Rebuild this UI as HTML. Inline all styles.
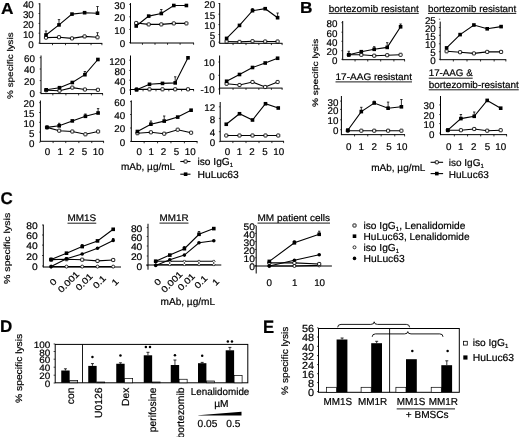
<!DOCTYPE html>
<html><head><meta charset="utf-8"><style>
html,body{margin:0;padding:0;background:#fff;}
svg{display:block;filter:grayscale(100%);}
text{stroke:#000;stroke-width:0.2px;text-rendering:geometricPrecision;}
</style></head><body>
<svg width="520" height="437" viewBox="0 0 520 437">
<rect width="520" height="437" fill="#fff"/>
<g font-family='"Liberation Sans", sans-serif' fill="#000">
<text transform="translate(0.90,13.50) scale(1.08,1)" font-size="16" text-anchor="start" font-weight="bold" >A</text>
<text transform="translate(300.00,13.00) scale(1.08,1)" font-size="16" text-anchor="start" font-weight="bold" >B</text>
<text x="0.40" y="203.90" font-size="17" text-anchor="start" font-weight="bold" >C</text>
<text x="-0.10" y="332.20" font-size="17" text-anchor="start" font-weight="bold" >D</text>
<text transform="translate(263.00,332.50) scale(0.93,1)" font-size="18" text-anchor="start" font-weight="bold" >E</text>
<line x1="39.80" y1="3.20" x2="39.80" y2="43.90" stroke="#000" stroke-width="1.0"/>
<line x1="39.80" y1="43.40" x2="102.30" y2="43.40" stroke="#000" stroke-width="1.0"/>
<line x1="38.50" y1="3.80" x2="39.80" y2="3.80" stroke="#000" stroke-width="0.7"/>
<text x="33.80" y="8.28" font-size="9.8" text-anchor="end" font-weight="normal" >40</text>
<line x1="38.50" y1="13.50" x2="39.80" y2="13.50" stroke="#000" stroke-width="0.7"/>
<text x="33.80" y="17.98" font-size="9.8" text-anchor="end" font-weight="normal" >30</text>
<line x1="38.50" y1="23.40" x2="39.80" y2="23.40" stroke="#000" stroke-width="0.7"/>
<text x="33.80" y="27.88" font-size="9.8" text-anchor="end" font-weight="normal" >20</text>
<line x1="38.50" y1="33.20" x2="39.80" y2="33.20" stroke="#000" stroke-width="0.7"/>
<text x="33.80" y="37.68" font-size="9.8" text-anchor="end" font-weight="normal" >10</text>
<line x1="38.50" y1="43.10" x2="39.80" y2="43.10" stroke="#000" stroke-width="0.7"/>
<text x="33.80" y="47.58" font-size="9.8" text-anchor="end" font-weight="normal" >0</text>
<line x1="52.50" y1="43.40" x2="52.50" y2="45.20" stroke="#000" stroke-width="0.8"/>
<line x1="65.50" y1="43.40" x2="65.50" y2="45.20" stroke="#000" stroke-width="0.8"/>
<line x1="78.30" y1="43.40" x2="78.30" y2="45.20" stroke="#000" stroke-width="0.8"/>
<line x1="91.05" y1="43.40" x2="91.05" y2="45.20" stroke="#000" stroke-width="0.8"/>
<line x1="101.90" y1="43.40" x2="101.90" y2="45.20" stroke="#000" stroke-width="0.8"/>
<line x1="46.00" y1="35.00" x2="46.00" y2="31.00" stroke="#000" stroke-width="0.8"/>
<line x1="44.80" y1="31.00" x2="47.20" y2="31.00" stroke="#000" stroke-width="0.8"/>
<line x1="59.00" y1="24.90" x2="59.00" y2="19.60" stroke="#000" stroke-width="0.8"/>
<line x1="57.80" y1="19.60" x2="60.20" y2="19.60" stroke="#000" stroke-width="0.8"/>
<line x1="97.50" y1="13.20" x2="97.50" y2="6.50" stroke="#000" stroke-width="0.8"/>
<line x1="96.30" y1="6.50" x2="98.70" y2="6.50" stroke="#000" stroke-width="0.8"/>
<line x1="97.50" y1="37.30" x2="97.50" y2="32.70" stroke="#000" stroke-width="0.8"/>
<line x1="96.30" y1="32.70" x2="98.70" y2="32.70" stroke="#000" stroke-width="0.8"/>
<polyline points="46.00,37.60 59.00,37.20 72.00,38.40 84.60,36.40 97.50,37.30" fill="none" stroke="#000" stroke-width="1.1"/>
<polyline points="46.00,35.00 59.00,24.90 72.00,14.10 84.60,12.70 97.50,13.20" fill="none" stroke="#000" stroke-width="1.1"/>
<rect x="44.45" y="36.05" width="3.10" height="3.10" rx="0.6" fill="#fff" stroke="#000" stroke-width="0.9"/>
<rect x="57.45" y="35.65" width="3.10" height="3.10" rx="0.6" fill="#fff" stroke="#000" stroke-width="0.9"/>
<rect x="70.45" y="36.85" width="3.10" height="3.10" rx="0.6" fill="#fff" stroke="#000" stroke-width="0.9"/>
<rect x="83.05" y="34.85" width="3.10" height="3.10" rx="0.6" fill="#fff" stroke="#000" stroke-width="0.9"/>
<rect x="95.95" y="35.75" width="3.10" height="3.10" rx="0.6" fill="#fff" stroke="#000" stroke-width="0.9"/>
<rect x="44.20" y="33.20" width="3.60" height="3.60" fill="#000"/>
<rect x="57.20" y="23.10" width="3.60" height="3.60" fill="#000"/>
<rect x="70.20" y="12.30" width="3.60" height="3.60" fill="#000"/>
<rect x="82.80" y="10.90" width="3.60" height="3.60" fill="#000"/>
<rect x="95.70" y="11.40" width="3.60" height="3.60" fill="#000"/>
<line x1="130.50" y1="3.10" x2="130.50" y2="43.50" stroke="#000" stroke-width="1.0"/>
<line x1="130.50" y1="43.00" x2="194.00" y2="43.00" stroke="#000" stroke-width="1.0"/>
<line x1="129.20" y1="4.40" x2="130.50" y2="4.40" stroke="#000" stroke-width="0.7"/>
<text x="125.20" y="8.88" font-size="9.8" text-anchor="end" font-weight="normal" >30</text>
<line x1="129.20" y1="16.80" x2="130.50" y2="16.80" stroke="#000" stroke-width="0.7"/>
<text x="125.20" y="21.28" font-size="9.8" text-anchor="end" font-weight="normal" >20</text>
<line x1="129.20" y1="29.40" x2="130.50" y2="29.40" stroke="#000" stroke-width="0.7"/>
<text x="125.20" y="33.88" font-size="9.8" text-anchor="end" font-weight="normal" >10</text>
<line x1="129.20" y1="42.60" x2="130.50" y2="42.60" stroke="#000" stroke-width="0.7"/>
<text x="125.20" y="47.08" font-size="9.8" text-anchor="end" font-weight="normal" >0</text>
<line x1="142.45" y1="43.00" x2="142.45" y2="44.80" stroke="#000" stroke-width="0.8"/>
<line x1="155.00" y1="43.00" x2="155.00" y2="44.80" stroke="#000" stroke-width="0.8"/>
<line x1="167.55" y1="43.00" x2="167.55" y2="44.80" stroke="#000" stroke-width="0.8"/>
<line x1="180.10" y1="43.00" x2="180.10" y2="44.80" stroke="#000" stroke-width="0.8"/>
<line x1="193.60" y1="43.00" x2="193.60" y2="44.80" stroke="#000" stroke-width="0.8"/>
<line x1="161.30" y1="13.50" x2="161.30" y2="9.50" stroke="#000" stroke-width="0.8"/>
<line x1="160.10" y1="9.50" x2="162.50" y2="9.50" stroke="#000" stroke-width="0.8"/>
<polyline points="136.20,23.00 148.70,24.40 161.30,24.40 173.80,23.40 186.40,23.40" fill="none" stroke="#000" stroke-width="1.1"/>
<polyline points="136.20,26.00 148.70,16.10 161.30,13.50 173.80,5.50 186.40,5.50" fill="none" stroke="#000" stroke-width="1.1"/>
<rect x="134.65" y="21.45" width="3.10" height="3.10" rx="0.6" fill="#fff" stroke="#000" stroke-width="0.9"/>
<rect x="147.15" y="22.85" width="3.10" height="3.10" rx="0.6" fill="#fff" stroke="#000" stroke-width="0.9"/>
<rect x="159.75" y="22.85" width="3.10" height="3.10" rx="0.6" fill="#fff" stroke="#000" stroke-width="0.9"/>
<rect x="172.25" y="21.85" width="3.10" height="3.10" rx="0.6" fill="#fff" stroke="#000" stroke-width="0.9"/>
<rect x="184.85" y="21.85" width="3.10" height="3.10" rx="0.6" fill="#fff" stroke="#000" stroke-width="0.9"/>
<rect x="134.40" y="24.20" width="3.60" height="3.60" fill="#000"/>
<rect x="146.90" y="14.30" width="3.60" height="3.60" fill="#000"/>
<rect x="159.50" y="11.70" width="3.60" height="3.60" fill="#000"/>
<rect x="172.00" y="3.70" width="3.60" height="3.60" fill="#000"/>
<rect x="184.60" y="3.70" width="3.60" height="3.60" fill="#000"/>
<line x1="219.70" y1="3.00" x2="219.70" y2="43.80" stroke="#000" stroke-width="1.0"/>
<line x1="219.70" y1="43.30" x2="282.50" y2="43.30" stroke="#000" stroke-width="1.0"/>
<line x1="218.40" y1="3.50" x2="219.70" y2="3.50" stroke="#000" stroke-width="0.7"/>
<text x="215.20" y="7.98" font-size="9.8" text-anchor="end" font-weight="normal" >20</text>
<line x1="218.40" y1="14.20" x2="219.70" y2="14.20" stroke="#000" stroke-width="0.7"/>
<text x="215.20" y="18.68" font-size="9.8" text-anchor="end" font-weight="normal" >15</text>
<line x1="218.40" y1="24.60" x2="219.70" y2="24.60" stroke="#000" stroke-width="0.7"/>
<text x="215.20" y="29.08" font-size="9.8" text-anchor="end" font-weight="normal" >10</text>
<line x1="218.40" y1="34.50" x2="219.70" y2="34.50" stroke="#000" stroke-width="0.7"/>
<text x="215.20" y="38.98" font-size="9.8" text-anchor="end" font-weight="normal" >5</text>
<line x1="218.40" y1="42.20" x2="219.70" y2="42.20" stroke="#000" stroke-width="0.7"/>
<text x="215.20" y="46.68" font-size="9.8" text-anchor="end" font-weight="normal" >0</text>
<line x1="233.05" y1="43.30" x2="233.05" y2="45.10" stroke="#000" stroke-width="0.8"/>
<line x1="246.00" y1="43.30" x2="246.00" y2="45.10" stroke="#000" stroke-width="0.8"/>
<line x1="258.85" y1="43.30" x2="258.85" y2="45.10" stroke="#000" stroke-width="0.8"/>
<line x1="271.40" y1="43.30" x2="271.40" y2="45.10" stroke="#000" stroke-width="0.8"/>
<line x1="282.10" y1="43.30" x2="282.10" y2="45.10" stroke="#000" stroke-width="0.8"/>
<line x1="252.50" y1="10.70" x2="252.50" y2="8.50" stroke="#000" stroke-width="0.8"/>
<line x1="251.30" y1="8.50" x2="253.70" y2="8.50" stroke="#000" stroke-width="0.8"/>
<line x1="277.60" y1="17.70" x2="277.60" y2="13.00" stroke="#000" stroke-width="0.8"/>
<line x1="276.40" y1="13.00" x2="278.80" y2="13.00" stroke="#000" stroke-width="0.8"/>
<polyline points="226.60,41.50 239.50,41.90 252.50,41.20 265.20,41.50 277.60,41.50" fill="none" stroke="#000" stroke-width="1.1"/>
<polyline points="226.60,38.40 239.50,25.40 252.50,10.70 265.20,8.70 277.60,17.70" fill="none" stroke="#000" stroke-width="1.1"/>
<rect x="225.05" y="39.95" width="3.10" height="3.10" rx="0.6" fill="#fff" stroke="#000" stroke-width="0.9"/>
<rect x="237.95" y="40.35" width="3.10" height="3.10" rx="0.6" fill="#fff" stroke="#000" stroke-width="0.9"/>
<rect x="250.95" y="39.65" width="3.10" height="3.10" rx="0.6" fill="#fff" stroke="#000" stroke-width="0.9"/>
<rect x="263.65" y="39.95" width="3.10" height="3.10" rx="0.6" fill="#fff" stroke="#000" stroke-width="0.9"/>
<rect x="276.05" y="39.95" width="3.10" height="3.10" rx="0.6" fill="#fff" stroke="#000" stroke-width="0.9"/>
<rect x="224.80" y="36.60" width="3.60" height="3.60" fill="#000"/>
<rect x="237.70" y="23.60" width="3.60" height="3.60" fill="#000"/>
<rect x="250.70" y="8.90" width="3.60" height="3.60" fill="#000"/>
<rect x="263.40" y="6.90" width="3.60" height="3.60" fill="#000"/>
<rect x="275.80" y="15.90" width="3.60" height="3.60" fill="#000"/>
<line x1="41.00" y1="55.50" x2="41.00" y2="94.10" stroke="#000" stroke-width="1.0"/>
<line x1="41.00" y1="93.60" x2="103.00" y2="93.60" stroke="#000" stroke-width="1.0"/>
<line x1="39.70" y1="57.70" x2="41.00" y2="57.70" stroke="#000" stroke-width="0.7"/>
<text x="35.00" y="62.18" font-size="9.8" text-anchor="end" font-weight="normal" >60</text>
<line x1="39.70" y1="69.00" x2="41.00" y2="69.00" stroke="#000" stroke-width="0.7"/>
<text x="35.00" y="73.48" font-size="9.8" text-anchor="end" font-weight="normal" >40</text>
<line x1="39.70" y1="80.60" x2="41.00" y2="80.60" stroke="#000" stroke-width="0.7"/>
<text x="35.00" y="85.08" font-size="9.8" text-anchor="end" font-weight="normal" >20</text>
<line x1="39.70" y1="92.60" x2="41.00" y2="92.60" stroke="#000" stroke-width="0.7"/>
<text x="35.00" y="97.08" font-size="9.8" text-anchor="end" font-weight="normal" >0</text>
<line x1="52.85" y1="93.60" x2="52.85" y2="95.40" stroke="#000" stroke-width="0.8"/>
<line x1="65.90" y1="93.60" x2="65.90" y2="95.40" stroke="#000" stroke-width="0.8"/>
<line x1="78.60" y1="93.60" x2="78.60" y2="95.40" stroke="#000" stroke-width="0.8"/>
<line x1="91.40" y1="93.60" x2="91.40" y2="95.40" stroke="#000" stroke-width="0.8"/>
<line x1="102.60" y1="93.60" x2="102.60" y2="95.40" stroke="#000" stroke-width="0.8"/>
<line x1="84.90" y1="74.70" x2="84.90" y2="71.50" stroke="#000" stroke-width="0.8"/>
<line x1="83.70" y1="71.50" x2="86.10" y2="71.50" stroke="#000" stroke-width="0.8"/>
<polyline points="46.20,90.20 59.50,90.70 72.30,87.60 84.90,89.50 97.90,89.80" fill="none" stroke="#000" stroke-width="1.1"/>
<polyline points="46.20,89.80 59.50,87.70 72.30,82.50 84.90,74.70 97.90,59.50" fill="none" stroke="#000" stroke-width="1.1"/>
<rect x="44.65" y="88.65" width="3.10" height="3.10" rx="0.6" fill="#fff" stroke="#000" stroke-width="0.9"/>
<rect x="57.95" y="89.15" width="3.10" height="3.10" rx="0.6" fill="#fff" stroke="#000" stroke-width="0.9"/>
<rect x="70.75" y="86.05" width="3.10" height="3.10" rx="0.6" fill="#fff" stroke="#000" stroke-width="0.9"/>
<rect x="83.35" y="87.95" width="3.10" height="3.10" rx="0.6" fill="#fff" stroke="#000" stroke-width="0.9"/>
<rect x="96.35" y="88.25" width="3.10" height="3.10" rx="0.6" fill="#fff" stroke="#000" stroke-width="0.9"/>
<rect x="44.40" y="88.00" width="3.60" height="3.60" fill="#000"/>
<rect x="57.70" y="85.90" width="3.60" height="3.60" fill="#000"/>
<rect x="70.50" y="80.70" width="3.60" height="3.60" fill="#000"/>
<rect x="83.10" y="72.90" width="3.60" height="3.60" fill="#000"/>
<rect x="96.10" y="57.70" width="3.60" height="3.60" fill="#000"/>
<line x1="130.50" y1="55.50" x2="130.50" y2="95.00" stroke="#000" stroke-width="1.0"/>
<line x1="130.50" y1="89.50" x2="194.00" y2="89.50" stroke="#000" stroke-width="1.0"/>
<line x1="129.20" y1="60.20" x2="130.50" y2="60.20" stroke="#000" stroke-width="0.7"/>
<text x="125.50" y="64.68" font-size="9.8" text-anchor="end" font-weight="normal" >120</text>
<line x1="129.20" y1="70.40" x2="130.50" y2="70.40" stroke="#000" stroke-width="0.7"/>
<text x="125.50" y="74.88" font-size="9.8" text-anchor="end" font-weight="normal" >80</text>
<line x1="129.20" y1="80.20" x2="130.50" y2="80.20" stroke="#000" stroke-width="0.7"/>
<text x="125.50" y="84.68" font-size="9.8" text-anchor="end" font-weight="normal" >40</text>
<line x1="129.20" y1="90.00" x2="130.50" y2="90.00" stroke="#000" stroke-width="0.7"/>
<text x="125.50" y="94.48" font-size="9.8" text-anchor="end" font-weight="normal" >0</text>
<line x1="143.05" y1="89.50" x2="143.05" y2="91.30" stroke="#000" stroke-width="0.8"/>
<line x1="156.00" y1="89.50" x2="156.00" y2="91.30" stroke="#000" stroke-width="0.8"/>
<line x1="168.85" y1="89.50" x2="168.85" y2="91.30" stroke="#000" stroke-width="0.8"/>
<line x1="181.60" y1="89.50" x2="181.60" y2="91.30" stroke="#000" stroke-width="0.8"/>
<line x1="193.60" y1="89.50" x2="193.60" y2="91.30" stroke="#000" stroke-width="0.8"/>
<line x1="175.20" y1="82.90" x2="175.20" y2="76.80" stroke="#000" stroke-width="0.8"/>
<line x1="174.00" y1="76.80" x2="176.40" y2="76.80" stroke="#000" stroke-width="0.8"/>
<polyline points="136.60,89.30 149.50,89.30 162.50,89.30 175.20,89.30 188.00,89.30" fill="none" stroke="#000" stroke-width="1.1"/>
<polyline points="136.60,89.80 149.50,84.30 162.50,83.40 175.20,82.90 188.00,57.80" fill="none" stroke="#000" stroke-width="1.1"/>
<rect x="135.05" y="87.75" width="3.10" height="3.10" rx="0.6" fill="#fff" stroke="#000" stroke-width="0.9"/>
<rect x="147.95" y="87.75" width="3.10" height="3.10" rx="0.6" fill="#fff" stroke="#000" stroke-width="0.9"/>
<rect x="160.95" y="87.75" width="3.10" height="3.10" rx="0.6" fill="#fff" stroke="#000" stroke-width="0.9"/>
<rect x="173.65" y="87.75" width="3.10" height="3.10" rx="0.6" fill="#fff" stroke="#000" stroke-width="0.9"/>
<rect x="186.45" y="87.75" width="3.10" height="3.10" rx="0.6" fill="#fff" stroke="#000" stroke-width="0.9"/>
<rect x="134.80" y="88.00" width="3.60" height="3.60" fill="#000"/>
<rect x="147.70" y="82.50" width="3.60" height="3.60" fill="#000"/>
<rect x="160.70" y="81.60" width="3.60" height="3.60" fill="#000"/>
<rect x="173.40" y="81.10" width="3.60" height="3.60" fill="#000"/>
<rect x="186.20" y="56.00" width="3.60" height="3.60" fill="#000"/>
<line x1="219.60" y1="55.50" x2="219.60" y2="94.60" stroke="#000" stroke-width="1.0"/>
<line x1="219.60" y1="88.10" x2="282.50" y2="88.10" stroke="#000" stroke-width="1.0"/>
<line x1="218.30" y1="62.00" x2="219.60" y2="62.00" stroke="#000" stroke-width="0.7"/>
<text x="214.60" y="66.48" font-size="9.8" text-anchor="end" font-weight="normal" >10</text>
<line x1="218.30" y1="75.30" x2="219.60" y2="75.30" stroke="#000" stroke-width="0.7"/>
<text x="214.60" y="79.78" font-size="9.8" text-anchor="end" font-weight="normal" >0</text>
<line x1="218.30" y1="89.00" x2="219.60" y2="89.00" stroke="#000" stroke-width="0.7"/>
<text x="214.60" y="93.48" font-size="9.8" text-anchor="end" font-weight="normal" >-10</text>
<line x1="233.05" y1="88.10" x2="233.05" y2="89.90" stroke="#000" stroke-width="0.8"/>
<line x1="246.00" y1="88.10" x2="246.00" y2="89.90" stroke="#000" stroke-width="0.8"/>
<line x1="258.85" y1="88.10" x2="258.85" y2="89.90" stroke="#000" stroke-width="0.8"/>
<line x1="271.40" y1="88.10" x2="271.40" y2="89.90" stroke="#000" stroke-width="0.8"/>
<line x1="282.10" y1="88.10" x2="282.10" y2="89.90" stroke="#000" stroke-width="0.8"/>
<polyline points="226.60,83.75 239.50,85.00 252.50,82.00 265.20,87.00 277.60,82.00" fill="none" stroke="#000" stroke-width="1.1"/>
<polyline points="226.60,81.25 239.50,74.50 252.50,67.50 265.20,63.00 277.60,58.25" fill="none" stroke="#000" stroke-width="1.1"/>
<rect x="225.05" y="82.20" width="3.10" height="3.10" rx="0.6" fill="#fff" stroke="#000" stroke-width="0.9"/>
<rect x="237.95" y="83.45" width="3.10" height="3.10" rx="0.6" fill="#fff" stroke="#000" stroke-width="0.9"/>
<rect x="250.95" y="80.45" width="3.10" height="3.10" rx="0.6" fill="#fff" stroke="#000" stroke-width="0.9"/>
<rect x="263.65" y="85.45" width="3.10" height="3.10" rx="0.6" fill="#fff" stroke="#000" stroke-width="0.9"/>
<rect x="276.05" y="80.45" width="3.10" height="3.10" rx="0.6" fill="#fff" stroke="#000" stroke-width="0.9"/>
<rect x="224.80" y="79.45" width="3.60" height="3.60" fill="#000"/>
<rect x="237.70" y="72.70" width="3.60" height="3.60" fill="#000"/>
<rect x="250.70" y="65.70" width="3.60" height="3.60" fill="#000"/>
<rect x="263.40" y="61.20" width="3.60" height="3.60" fill="#000"/>
<rect x="275.80" y="56.45" width="3.60" height="3.60" fill="#000"/>
<line x1="40.40" y1="100.50" x2="40.40" y2="141.80" stroke="#000" stroke-width="1.0"/>
<line x1="40.40" y1="141.30" x2="104.00" y2="141.30" stroke="#000" stroke-width="1.0"/>
<line x1="39.10" y1="102.70" x2="40.40" y2="102.70" stroke="#000" stroke-width="0.7"/>
<text x="34.40" y="107.18" font-size="9.8" text-anchor="end" font-weight="normal" >20</text>
<line x1="39.10" y1="112.50" x2="40.40" y2="112.50" stroke="#000" stroke-width="0.7"/>
<text x="34.40" y="116.98" font-size="9.8" text-anchor="end" font-weight="normal" >15</text>
<line x1="39.10" y1="122.30" x2="40.40" y2="122.30" stroke="#000" stroke-width="0.7"/>
<text x="34.40" y="126.78" font-size="9.8" text-anchor="end" font-weight="normal" >10</text>
<line x1="39.10" y1="132.10" x2="40.40" y2="132.10" stroke="#000" stroke-width="0.7"/>
<text x="34.40" y="136.58" font-size="9.8" text-anchor="end" font-weight="normal" >5</text>
<line x1="39.10" y1="142.20" x2="40.40" y2="142.20" stroke="#000" stroke-width="0.7"/>
<text x="34.40" y="146.68" font-size="9.8" text-anchor="end" font-weight="normal" >0</text>
<line x1="53.10" y1="141.30" x2="53.10" y2="143.10" stroke="#000" stroke-width="0.8"/>
<line x1="65.75" y1="141.30" x2="65.75" y2="143.10" stroke="#000" stroke-width="0.8"/>
<line x1="78.85" y1="141.30" x2="78.85" y2="143.10" stroke="#000" stroke-width="0.8"/>
<line x1="91.75" y1="141.30" x2="91.75" y2="143.10" stroke="#000" stroke-width="0.8"/>
<line x1="103.60" y1="141.30" x2="103.60" y2="143.10" stroke="#000" stroke-width="0.8"/>
<line x1="59.20" y1="125.80" x2="59.20" y2="123.30" stroke="#000" stroke-width="0.8"/>
<line x1="58.00" y1="123.30" x2="60.40" y2="123.30" stroke="#000" stroke-width="0.8"/>
<line x1="85.40" y1="116.30" x2="85.40" y2="114.00" stroke="#000" stroke-width="0.8"/>
<line x1="84.20" y1="114.00" x2="86.60" y2="114.00" stroke="#000" stroke-width="0.8"/>
<line x1="98.10" y1="113.00" x2="98.10" y2="108.60" stroke="#000" stroke-width="0.8"/>
<line x1="96.90" y1="108.60" x2="99.30" y2="108.60" stroke="#000" stroke-width="0.8"/>
<polyline points="47.00,127.40 59.20,130.70 72.30,131.50 85.40,134.30 98.10,131.50" fill="none" stroke="#000" stroke-width="1.1"/>
<polyline points="47.00,127.40 59.20,125.80 72.30,120.90 85.40,116.30 98.10,113.00" fill="none" stroke="#000" stroke-width="1.1"/>
<rect x="45.45" y="125.85" width="3.10" height="3.10" rx="0.6" fill="#fff" stroke="#000" stroke-width="0.9"/>
<rect x="57.65" y="129.15" width="3.10" height="3.10" rx="0.6" fill="#fff" stroke="#000" stroke-width="0.9"/>
<rect x="70.75" y="129.95" width="3.10" height="3.10" rx="0.6" fill="#fff" stroke="#000" stroke-width="0.9"/>
<rect x="83.85" y="132.75" width="3.10" height="3.10" rx="0.6" fill="#fff" stroke="#000" stroke-width="0.9"/>
<rect x="96.55" y="129.95" width="3.10" height="3.10" rx="0.6" fill="#fff" stroke="#000" stroke-width="0.9"/>
<rect x="45.20" y="125.60" width="3.60" height="3.60" fill="#000"/>
<rect x="57.40" y="124.00" width="3.60" height="3.60" fill="#000"/>
<rect x="70.50" y="119.10" width="3.60" height="3.60" fill="#000"/>
<rect x="83.60" y="114.50" width="3.60" height="3.60" fill="#000"/>
<rect x="96.30" y="111.20" width="3.60" height="3.60" fill="#000"/>
<line x1="131.30" y1="100.40" x2="131.30" y2="142.00" stroke="#000" stroke-width="1.0"/>
<line x1="131.30" y1="141.50" x2="197.50" y2="141.50" stroke="#000" stroke-width="1.0"/>
<line x1="130.00" y1="101.60" x2="131.30" y2="101.60" stroke="#000" stroke-width="0.7"/>
<text x="125.10" y="106.08" font-size="9.8" text-anchor="end" font-weight="normal" >60</text>
<line x1="130.00" y1="114.50" x2="131.30" y2="114.50" stroke="#000" stroke-width="0.7"/>
<text x="125.10" y="118.98" font-size="9.8" text-anchor="end" font-weight="normal" >40</text>
<line x1="130.00" y1="128.00" x2="131.30" y2="128.00" stroke="#000" stroke-width="0.7"/>
<text x="125.10" y="132.48" font-size="9.8" text-anchor="end" font-weight="normal" >20</text>
<line x1="130.00" y1="141.40" x2="131.30" y2="141.40" stroke="#000" stroke-width="0.7"/>
<text x="125.10" y="145.88" font-size="9.8" text-anchor="end" font-weight="normal" >0</text>
<line x1="144.15" y1="141.50" x2="144.15" y2="143.30" stroke="#000" stroke-width="0.8"/>
<line x1="157.55" y1="141.50" x2="157.55" y2="143.30" stroke="#000" stroke-width="0.8"/>
<line x1="170.95" y1="141.50" x2="170.95" y2="143.30" stroke="#000" stroke-width="0.8"/>
<line x1="184.40" y1="141.50" x2="184.40" y2="143.30" stroke="#000" stroke-width="0.8"/>
<line x1="197.10" y1="141.50" x2="197.10" y2="143.30" stroke="#000" stroke-width="0.8"/>
<line x1="150.90" y1="124.20" x2="150.90" y2="121.00" stroke="#000" stroke-width="0.8"/>
<line x1="149.70" y1="121.00" x2="152.10" y2="121.00" stroke="#000" stroke-width="0.8"/>
<line x1="164.20" y1="121.10" x2="164.20" y2="116.00" stroke="#000" stroke-width="0.8"/>
<line x1="163.00" y1="116.00" x2="165.40" y2="116.00" stroke="#000" stroke-width="0.8"/>
<polyline points="137.40,133.20 150.90,132.30 164.20,133.70 177.70,129.70 191.10,132.70" fill="none" stroke="#000" stroke-width="1.1"/>
<polyline points="137.40,131.50 150.90,124.20 164.20,121.10 177.70,117.10 191.10,110.20" fill="none" stroke="#000" stroke-width="1.1"/>
<rect x="135.85" y="131.65" width="3.10" height="3.10" rx="0.6" fill="#fff" stroke="#000" stroke-width="0.9"/>
<rect x="149.35" y="130.75" width="3.10" height="3.10" rx="0.6" fill="#fff" stroke="#000" stroke-width="0.9"/>
<rect x="162.65" y="132.15" width="3.10" height="3.10" rx="0.6" fill="#fff" stroke="#000" stroke-width="0.9"/>
<rect x="176.15" y="128.15" width="3.10" height="3.10" rx="0.6" fill="#fff" stroke="#000" stroke-width="0.9"/>
<rect x="189.55" y="131.15" width="3.10" height="3.10" rx="0.6" fill="#fff" stroke="#000" stroke-width="0.9"/>
<rect x="135.60" y="129.70" width="3.60" height="3.60" fill="#000"/>
<rect x="149.10" y="122.40" width="3.60" height="3.60" fill="#000"/>
<rect x="162.40" y="119.30" width="3.60" height="3.60" fill="#000"/>
<rect x="175.90" y="115.30" width="3.60" height="3.60" fill="#000"/>
<rect x="189.30" y="108.40" width="3.60" height="3.60" fill="#000"/>
<line x1="220.20" y1="102.00" x2="220.20" y2="141.80" stroke="#000" stroke-width="1.0"/>
<line x1="220.20" y1="141.30" x2="284.00" y2="141.30" stroke="#000" stroke-width="1.0"/>
<line x1="218.90" y1="106.80" x2="220.20" y2="106.80" stroke="#000" stroke-width="0.7"/>
<text x="215.20" y="111.28" font-size="9.8" text-anchor="end" font-weight="normal" >12</text>
<line x1="218.90" y1="118.40" x2="220.20" y2="118.40" stroke="#000" stroke-width="0.7"/>
<text x="215.20" y="122.88" font-size="9.8" text-anchor="end" font-weight="normal" >8</text>
<line x1="218.90" y1="131.70" x2="220.20" y2="131.70" stroke="#000" stroke-width="0.7"/>
<text x="215.20" y="136.18" font-size="9.8" text-anchor="end" font-weight="normal" >4</text>
<line x1="218.90" y1="141.70" x2="220.20" y2="141.70" stroke="#000" stroke-width="0.7"/>
<text x="215.20" y="146.18" font-size="9.8" text-anchor="end" font-weight="normal" >0</text>
<line x1="232.88" y1="141.30" x2="232.88" y2="143.10" stroke="#000" stroke-width="0.8"/>
<line x1="246.00" y1="141.30" x2="246.00" y2="143.10" stroke="#000" stroke-width="0.8"/>
<line x1="259.00" y1="141.30" x2="259.00" y2="143.10" stroke="#000" stroke-width="0.8"/>
<line x1="271.88" y1="141.30" x2="271.88" y2="143.10" stroke="#000" stroke-width="0.8"/>
<line x1="283.60" y1="141.30" x2="283.60" y2="143.10" stroke="#000" stroke-width="0.8"/>
<polyline points="226.25,135.50 239.50,135.50 252.50,135.50 265.50,135.50 278.25,135.50" fill="none" stroke="#000" stroke-width="1.1"/>
<polyline points="226.25,124.25 239.50,113.75 252.50,120.00 265.50,103.75 278.25,108.00" fill="none" stroke="#000" stroke-width="1.1"/>
<rect x="224.70" y="133.95" width="3.10" height="3.10" rx="0.6" fill="#fff" stroke="#000" stroke-width="0.9"/>
<rect x="237.95" y="133.95" width="3.10" height="3.10" rx="0.6" fill="#fff" stroke="#000" stroke-width="0.9"/>
<rect x="250.95" y="133.95" width="3.10" height="3.10" rx="0.6" fill="#fff" stroke="#000" stroke-width="0.9"/>
<rect x="263.95" y="133.95" width="3.10" height="3.10" rx="0.6" fill="#fff" stroke="#000" stroke-width="0.9"/>
<rect x="276.70" y="133.95" width="3.10" height="3.10" rx="0.6" fill="#fff" stroke="#000" stroke-width="0.9"/>
<rect x="224.45" y="122.45" width="3.60" height="3.60" fill="#000"/>
<rect x="237.70" y="111.95" width="3.60" height="3.60" fill="#000"/>
<rect x="250.70" y="118.20" width="3.60" height="3.60" fill="#000"/>
<rect x="263.70" y="101.95" width="3.60" height="3.60" fill="#000"/>
<rect x="276.45" y="106.20" width="3.60" height="3.60" fill="#000"/>
<text x="47.60" y="154.68" font-size="9.8" text-anchor="middle" font-weight="normal" >0</text>
<text x="60.20" y="154.68" font-size="9.8" text-anchor="middle" font-weight="normal" >1</text>
<text x="71.80" y="154.68" font-size="9.8" text-anchor="middle" font-weight="normal" >2</text>
<text x="84.60" y="154.68" font-size="9.8" text-anchor="middle" font-weight="normal" >5</text>
<text x="98.30" y="154.68" font-size="9.8" text-anchor="middle" font-weight="normal" >10</text>
<text x="139.20" y="154.68" font-size="9.8" text-anchor="middle" font-weight="normal" >0</text>
<text x="151.30" y="154.68" font-size="9.8" text-anchor="middle" font-weight="normal" >1</text>
<text x="163.40" y="154.68" font-size="9.8" text-anchor="middle" font-weight="normal" >2</text>
<text x="176.40" y="154.68" font-size="9.8" text-anchor="middle" font-weight="normal" >5</text>
<text x="190.20" y="154.68" font-size="9.8" text-anchor="middle" font-weight="normal" >10</text>
<text x="227.40" y="154.78" font-size="9.8" text-anchor="middle" font-weight="normal" >0</text>
<text x="239.50" y="154.78" font-size="9.8" text-anchor="middle" font-weight="normal" >1</text>
<text x="252.00" y="154.78" font-size="9.8" text-anchor="middle" font-weight="normal" >2</text>
<text x="265.00" y="154.78" font-size="9.8" text-anchor="middle" font-weight="normal" >5</text>
<text x="278.75" y="154.78" font-size="9.8" text-anchor="middle" font-weight="normal" >10</text>
<text transform="translate(13.00,65.60) rotate(-90)" font-size="8.3" text-anchor="middle" font-weight="normal"  textLength="66.60" lengthAdjust="spacingAndGlyphs">% specific lysis</text>
<text x="121.00" y="169.50" font-size="10" text-anchor="start" font-weight="normal" >mAb, µg/mL</text>
<line x1="180.30" y1="161.50" x2="190.50" y2="161.50" stroke="#000" stroke-width="1.1"/>
<rect x="184.05" y="159.95" width="3.10" height="3.10" rx="0.6" fill="#fff" stroke="#000" stroke-width="0.9"/>
<line x1="180.30" y1="174.20" x2="190.50" y2="174.20" stroke="#000" stroke-width="1.1"/>
<rect x="183.80" y="172.40" width="3.60" height="3.60" fill="#000"/>
<text x="197.50" y="165.20" font-size="10.2" text-anchor="start" font-weight="normal" >iso IgG<tspan font-size="6" dy="2">1</tspan></text>
<text x="197.50" y="177.60" font-size="10.2" text-anchor="start" font-weight="normal"  textLength="41.20" lengthAdjust="spacingAndGlyphs">HuLuc63</text>
<text x="328.75" y="11.50" font-size="9.6" textLength="90.00" lengthAdjust="spacingAndGlyphs">bortezomib resistant</text>
<line x1="328.75" y1="13.40" x2="418.75" y2="13.40" stroke="#000" stroke-width="0.9"/>
<text x="428.00" y="11.50" font-size="9.6" textLength="88.25" lengthAdjust="spacingAndGlyphs">bortezomib resistant</text>
<line x1="428.00" y1="13.40" x2="516.25" y2="13.40" stroke="#000" stroke-width="0.9"/>
<text x="335.50" y="80.10" font-size="9.6" textLength="76.50" lengthAdjust="spacingAndGlyphs">17-AAG resistant</text>
<line x1="335.50" y1="81.90" x2="412.00" y2="81.90" stroke="#000" stroke-width="0.9"/>
<text x="428.75" y="76.30" font-size="9.6" textLength="43.95" lengthAdjust="spacingAndGlyphs">17-AAG &amp;</text>
<line x1="428.75" y1="78.20" x2="472.70" y2="78.20" stroke="#000" stroke-width="0.9"/>
<text x="428.75" y="87.90" font-size="9.6" textLength="90.00" lengthAdjust="spacingAndGlyphs">bortezomib-resistant</text>
<line x1="428.75" y1="89.80" x2="518.75" y2="89.80" stroke="#000" stroke-width="0.9"/>
<line x1="342.70" y1="21.00" x2="342.70" y2="60.20" stroke="#000" stroke-width="1.0"/>
<line x1="342.70" y1="59.70" x2="405.00" y2="59.70" stroke="#000" stroke-width="1.0"/>
<line x1="341.40" y1="22.70" x2="342.70" y2="22.70" stroke="#000" stroke-width="0.7"/>
<text x="337.40" y="27.18" font-size="9.8" text-anchor="end" font-weight="normal" >80</text>
<line x1="341.40" y1="32.20" x2="342.70" y2="32.20" stroke="#000" stroke-width="0.7"/>
<text x="337.40" y="36.68" font-size="9.8" text-anchor="end" font-weight="normal" >60</text>
<line x1="341.40" y1="41.30" x2="342.70" y2="41.30" stroke="#000" stroke-width="0.7"/>
<text x="337.40" y="45.78" font-size="9.8" text-anchor="end" font-weight="normal" >40</text>
<line x1="341.40" y1="50.70" x2="342.70" y2="50.70" stroke="#000" stroke-width="0.7"/>
<text x="337.40" y="55.18" font-size="9.8" text-anchor="end" font-weight="normal" >20</text>
<line x1="341.40" y1="59.30" x2="342.70" y2="59.30" stroke="#000" stroke-width="0.7"/>
<text x="337.40" y="63.78" font-size="9.8" text-anchor="end" font-weight="normal" >0</text>
<line x1="355.05" y1="59.70" x2="355.05" y2="61.50" stroke="#000" stroke-width="0.8"/>
<line x1="367.75" y1="59.70" x2="367.75" y2="61.50" stroke="#000" stroke-width="0.8"/>
<line x1="380.70" y1="59.70" x2="380.70" y2="61.50" stroke="#000" stroke-width="0.8"/>
<line x1="393.90" y1="59.70" x2="393.90" y2="61.50" stroke="#000" stroke-width="0.8"/>
<line x1="404.60" y1="59.70" x2="404.60" y2="61.50" stroke="#000" stroke-width="0.8"/>
<line x1="348.80" y1="54.80" x2="348.80" y2="51.30" stroke="#000" stroke-width="0.8"/>
<line x1="347.60" y1="51.30" x2="350.00" y2="51.30" stroke="#000" stroke-width="0.8"/>
<line x1="374.20" y1="49.30" x2="374.20" y2="46.70" stroke="#000" stroke-width="0.8"/>
<line x1="373.00" y1="46.70" x2="375.40" y2="46.70" stroke="#000" stroke-width="0.8"/>
<line x1="387.20" y1="47.40" x2="387.20" y2="42.70" stroke="#000" stroke-width="0.8"/>
<line x1="386.00" y1="42.70" x2="388.40" y2="42.70" stroke="#000" stroke-width="0.8"/>
<line x1="400.60" y1="26.80" x2="400.60" y2="24.00" stroke="#000" stroke-width="0.8"/>
<line x1="399.40" y1="24.00" x2="401.80" y2="24.00" stroke="#000" stroke-width="0.8"/>
<polyline points="348.80,54.80 361.30,54.80 374.20,55.70 387.20,55.20 400.60,54.80" fill="none" stroke="#000" stroke-width="1.1"/>
<polyline points="348.80,54.80 361.30,51.70 374.20,49.30 387.20,47.40 400.60,26.80" fill="none" stroke="#000" stroke-width="1.1"/>
<rect x="347.25" y="53.25" width="3.10" height="3.10" rx="0.6" fill="#fff" stroke="#000" stroke-width="0.9"/>
<rect x="359.75" y="53.25" width="3.10" height="3.10" rx="0.6" fill="#fff" stroke="#000" stroke-width="0.9"/>
<rect x="372.65" y="54.15" width="3.10" height="3.10" rx="0.6" fill="#fff" stroke="#000" stroke-width="0.9"/>
<rect x="385.65" y="53.65" width="3.10" height="3.10" rx="0.6" fill="#fff" stroke="#000" stroke-width="0.9"/>
<rect x="399.05" y="53.25" width="3.10" height="3.10" rx="0.6" fill="#fff" stroke="#000" stroke-width="0.9"/>
<rect x="347.00" y="53.00" width="3.60" height="3.60" fill="#000"/>
<rect x="359.50" y="49.90" width="3.60" height="3.60" fill="#000"/>
<rect x="372.40" y="47.50" width="3.60" height="3.60" fill="#000"/>
<rect x="385.40" y="45.60" width="3.60" height="3.60" fill="#000"/>
<rect x="398.80" y="25.00" width="3.60" height="3.60" fill="#000"/>
<line x1="440.20" y1="21.60" x2="440.20" y2="60.20" stroke="#000" stroke-width="1.0"/>
<line x1="440.20" y1="59.70" x2="506.25" y2="59.70" stroke="#000" stroke-width="1.0"/>
<line x1="438.90" y1="19.20" x2="440.20" y2="19.20" stroke="#000" stroke-width="0.7"/>
<text x="435.80" y="23.68" font-size="9.8" text-anchor="end" font-weight="normal" >25</text>
<line x1="438.90" y1="27.50" x2="440.20" y2="27.50" stroke="#000" stroke-width="0.7"/>
<text x="435.80" y="31.98" font-size="9.8" text-anchor="end" font-weight="normal" >20</text>
<line x1="438.90" y1="35.30" x2="440.20" y2="35.30" stroke="#000" stroke-width="0.7"/>
<text x="435.80" y="39.78" font-size="9.8" text-anchor="end" font-weight="normal" >15</text>
<line x1="438.90" y1="43.80" x2="440.20" y2="43.80" stroke="#000" stroke-width="0.7"/>
<text x="435.80" y="48.28" font-size="9.8" text-anchor="end" font-weight="normal" >10</text>
<line x1="438.90" y1="51.70" x2="440.20" y2="51.70" stroke="#000" stroke-width="0.7"/>
<text x="435.80" y="56.18" font-size="9.8" text-anchor="end" font-weight="normal" >5</text>
<line x1="438.90" y1="59.30" x2="440.20" y2="59.30" stroke="#000" stroke-width="0.7"/>
<text x="435.80" y="63.78" font-size="9.8" text-anchor="end" font-weight="normal" >0</text>
<line x1="453.35" y1="59.70" x2="453.35" y2="61.50" stroke="#000" stroke-width="0.8"/>
<line x1="467.00" y1="59.70" x2="467.00" y2="61.50" stroke="#000" stroke-width="0.8"/>
<line x1="480.55" y1="59.70" x2="480.55" y2="61.50" stroke="#000" stroke-width="0.8"/>
<line x1="494.15" y1="59.70" x2="494.15" y2="61.50" stroke="#000" stroke-width="0.8"/>
<line x1="505.85" y1="59.70" x2="505.85" y2="61.50" stroke="#000" stroke-width="0.8"/>
<polyline points="446.60,51.30 460.10,52.20 473.90,53.40 487.20,51.90 501.10,51.90" fill="none" stroke="#000" stroke-width="1.1"/>
<polyline points="446.60,47.90 460.10,34.60 473.90,25.00 487.20,28.80 501.10,26.60" fill="none" stroke="#000" stroke-width="1.1"/>
<rect x="445.05" y="49.75" width="3.10" height="3.10" rx="0.6" fill="#fff" stroke="#000" stroke-width="0.9"/>
<rect x="458.55" y="50.65" width="3.10" height="3.10" rx="0.6" fill="#fff" stroke="#000" stroke-width="0.9"/>
<rect x="472.35" y="51.85" width="3.10" height="3.10" rx="0.6" fill="#fff" stroke="#000" stroke-width="0.9"/>
<rect x="485.65" y="50.35" width="3.10" height="3.10" rx="0.6" fill="#fff" stroke="#000" stroke-width="0.9"/>
<rect x="499.55" y="50.35" width="3.10" height="3.10" rx="0.6" fill="#fff" stroke="#000" stroke-width="0.9"/>
<rect x="444.80" y="46.10" width="3.60" height="3.60" fill="#000"/>
<rect x="458.30" y="32.80" width="3.60" height="3.60" fill="#000"/>
<rect x="472.10" y="23.20" width="3.60" height="3.60" fill="#000"/>
<rect x="485.40" y="27.00" width="3.60" height="3.60" fill="#000"/>
<rect x="499.30" y="24.80" width="3.60" height="3.60" fill="#000"/>
<line x1="341.40" y1="96.00" x2="341.40" y2="135.15" stroke="#000" stroke-width="1.0"/>
<line x1="341.40" y1="134.65" x2="405.00" y2="134.65" stroke="#000" stroke-width="1.0"/>
<line x1="340.10" y1="101.10" x2="341.40" y2="101.10" stroke="#000" stroke-width="0.7"/>
<text x="338.40" y="105.58" font-size="9.8" text-anchor="end" font-weight="normal" >30</text>
<line x1="340.10" y1="109.40" x2="341.40" y2="109.40" stroke="#000" stroke-width="0.7"/>
<text x="338.40" y="113.88" font-size="9.8" text-anchor="end" font-weight="normal" >20</text>
<line x1="340.10" y1="119.80" x2="341.40" y2="119.80" stroke="#000" stroke-width="0.7"/>
<text x="338.40" y="124.28" font-size="9.8" text-anchor="end" font-weight="normal" >10</text>
<line x1="340.10" y1="129.70" x2="341.40" y2="129.70" stroke="#000" stroke-width="0.7"/>
<text x="338.40" y="134.18" font-size="9.8" text-anchor="end" font-weight="normal" >0</text>
<line x1="354.55" y1="134.65" x2="354.55" y2="136.45" stroke="#000" stroke-width="0.8"/>
<line x1="367.75" y1="134.65" x2="367.75" y2="136.45" stroke="#000" stroke-width="0.8"/>
<line x1="381.15" y1="134.65" x2="381.15" y2="136.45" stroke="#000" stroke-width="0.8"/>
<line x1="394.75" y1="134.65" x2="394.75" y2="136.45" stroke="#000" stroke-width="0.8"/>
<line x1="404.60" y1="134.65" x2="404.60" y2="136.45" stroke="#000" stroke-width="0.8"/>
<line x1="361.30" y1="111.60" x2="361.30" y2="107.30" stroke="#000" stroke-width="0.8"/>
<line x1="360.10" y1="107.30" x2="362.50" y2="107.30" stroke="#000" stroke-width="0.8"/>
<line x1="374.20" y1="103.00" x2="374.20" y2="101.20" stroke="#000" stroke-width="0.8"/>
<line x1="373.00" y1="101.20" x2="375.40" y2="101.20" stroke="#000" stroke-width="0.8"/>
<line x1="388.10" y1="108.20" x2="388.10" y2="102.10" stroke="#000" stroke-width="0.8"/>
<line x1="386.90" y1="102.10" x2="389.30" y2="102.10" stroke="#000" stroke-width="0.8"/>
<line x1="401.40" y1="106.80" x2="401.40" y2="99.50" stroke="#000" stroke-width="0.8"/>
<line x1="400.20" y1="99.50" x2="402.60" y2="99.50" stroke="#000" stroke-width="0.8"/>
<polyline points="347.80,130.70 361.30,130.70 374.20,130.70 388.10,130.70 401.40,130.70" fill="none" stroke="#000" stroke-width="1.1"/>
<polyline points="347.80,130.20 361.30,111.60 374.20,103.00 388.10,108.20 401.40,106.80" fill="none" stroke="#000" stroke-width="1.1"/>
<rect x="346.25" y="129.15" width="3.10" height="3.10" rx="0.6" fill="#fff" stroke="#000" stroke-width="0.9"/>
<rect x="359.75" y="129.15" width="3.10" height="3.10" rx="0.6" fill="#fff" stroke="#000" stroke-width="0.9"/>
<rect x="372.65" y="129.15" width="3.10" height="3.10" rx="0.6" fill="#fff" stroke="#000" stroke-width="0.9"/>
<rect x="386.55" y="129.15" width="3.10" height="3.10" rx="0.6" fill="#fff" stroke="#000" stroke-width="0.9"/>
<rect x="399.85" y="129.15" width="3.10" height="3.10" rx="0.6" fill="#fff" stroke="#000" stroke-width="0.9"/>
<rect x="346.00" y="128.40" width="3.60" height="3.60" fill="#000"/>
<rect x="359.50" y="109.80" width="3.60" height="3.60" fill="#000"/>
<rect x="372.40" y="101.20" width="3.60" height="3.60" fill="#000"/>
<rect x="386.30" y="106.40" width="3.60" height="3.60" fill="#000"/>
<rect x="399.60" y="105.00" width="3.60" height="3.60" fill="#000"/>
<line x1="440.50" y1="96.00" x2="440.50" y2="135.15" stroke="#000" stroke-width="1.0"/>
<line x1="440.50" y1="134.65" x2="507.00" y2="134.65" stroke="#000" stroke-width="1.0"/>
<line x1="439.20" y1="104.90" x2="440.50" y2="104.90" stroke="#000" stroke-width="0.7"/>
<text x="434.50" y="109.38" font-size="9.8" text-anchor="end" font-weight="normal" >30</text>
<line x1="439.20" y1="114.60" x2="440.50" y2="114.60" stroke="#000" stroke-width="0.7"/>
<text x="434.50" y="119.08" font-size="9.8" text-anchor="end" font-weight="normal" >20</text>
<line x1="439.20" y1="123.60" x2="440.50" y2="123.60" stroke="#000" stroke-width="0.7"/>
<text x="434.50" y="128.08" font-size="9.8" text-anchor="end" font-weight="normal" >10</text>
<line x1="439.20" y1="133.10" x2="440.50" y2="133.10" stroke="#000" stroke-width="0.7"/>
<text x="434.50" y="137.58" font-size="9.8" text-anchor="end" font-weight="normal" >0</text>
<line x1="454.35" y1="134.65" x2="454.35" y2="136.45" stroke="#000" stroke-width="0.8"/>
<line x1="467.55" y1="134.65" x2="467.55" y2="136.45" stroke="#000" stroke-width="0.8"/>
<line x1="480.70" y1="134.65" x2="480.70" y2="136.45" stroke="#000" stroke-width="0.8"/>
<line x1="493.95" y1="134.65" x2="493.95" y2="136.45" stroke="#000" stroke-width="0.8"/>
<line x1="506.60" y1="134.65" x2="506.60" y2="136.45" stroke="#000" stroke-width="0.8"/>
<line x1="460.90" y1="118.60" x2="460.90" y2="114.50" stroke="#000" stroke-width="0.8"/>
<line x1="459.70" y1="114.50" x2="462.10" y2="114.50" stroke="#000" stroke-width="0.8"/>
<line x1="474.20" y1="116.30" x2="474.20" y2="112.00" stroke="#000" stroke-width="0.8"/>
<line x1="473.00" y1="112.00" x2="475.40" y2="112.00" stroke="#000" stroke-width="0.8"/>
<polyline points="447.80,130.20 460.90,130.20 474.20,129.00 487.20,130.70 500.70,130.20" fill="none" stroke="#000" stroke-width="1.1"/>
<polyline points="447.80,130.20 460.90,118.60 474.20,116.30 487.20,100.40 500.70,108.20" fill="none" stroke="#000" stroke-width="1.1"/>
<rect x="446.25" y="128.65" width="3.10" height="3.10" rx="0.6" fill="#fff" stroke="#000" stroke-width="0.9"/>
<rect x="459.35" y="128.65" width="3.10" height="3.10" rx="0.6" fill="#fff" stroke="#000" stroke-width="0.9"/>
<rect x="472.65" y="127.45" width="3.10" height="3.10" rx="0.6" fill="#fff" stroke="#000" stroke-width="0.9"/>
<rect x="485.65" y="129.15" width="3.10" height="3.10" rx="0.6" fill="#fff" stroke="#000" stroke-width="0.9"/>
<rect x="499.15" y="128.65" width="3.10" height="3.10" rx="0.6" fill="#fff" stroke="#000" stroke-width="0.9"/>
<rect x="446.00" y="128.40" width="3.60" height="3.60" fill="#000"/>
<rect x="459.10" y="116.80" width="3.60" height="3.60" fill="#000"/>
<rect x="472.40" y="114.50" width="3.60" height="3.60" fill="#000"/>
<rect x="485.40" y="98.60" width="3.60" height="3.60" fill="#000"/>
<rect x="498.90" y="106.40" width="3.60" height="3.60" fill="#000"/>
<text x="348.80" y="149.68" font-size="9.8" text-anchor="middle" font-weight="normal" >0</text>
<text x="361.30" y="149.68" font-size="9.8" text-anchor="middle" font-weight="normal" >1</text>
<text x="374.20" y="149.68" font-size="9.8" text-anchor="middle" font-weight="normal" >2</text>
<text x="389.00" y="149.68" font-size="9.8" text-anchor="middle" font-weight="normal" >5</text>
<text x="402.00" y="149.68" font-size="9.8" text-anchor="middle" font-weight="normal" >10</text>
<text x="448.75" y="149.73" font-size="9.8" text-anchor="middle" font-weight="normal" >0</text>
<text x="460.75" y="149.73" font-size="9.8" text-anchor="middle" font-weight="normal" >1</text>
<text x="473.75" y="149.73" font-size="9.8" text-anchor="middle" font-weight="normal" >2</text>
<text x="487.50" y="149.73" font-size="9.8" text-anchor="middle" font-weight="normal" >5</text>
<text x="500.75" y="149.73" font-size="9.8" text-anchor="middle" font-weight="normal" >10</text>
<text transform="translate(317.90,72.90) rotate(-90)" font-size="7.9" text-anchor="middle" font-weight="normal"  textLength="68.20" lengthAdjust="spacingAndGlyphs">% specific lysis</text>
<text x="371.25" y="170.50" font-size="10" text-anchor="start" font-weight="normal" >mAb, µg/mL</text>
<line x1="430.60" y1="162.30" x2="443.10" y2="162.30" stroke="#000" stroke-width="1.1"/>
<rect x="435.25" y="160.75" width="3.10" height="3.10" rx="0.6" fill="#fff" stroke="#000" stroke-width="0.9"/>
<line x1="430.60" y1="173.60" x2="443.10" y2="173.60" stroke="#000" stroke-width="1.1"/>
<rect x="435.00" y="171.80" width="3.60" height="3.60" fill="#000"/>
<text x="448.75" y="166.00" font-size="10" text-anchor="start" font-weight="normal" >iso IgG<tspan font-size="6" dy="2">1</tspan></text>
<text x="448.75" y="178.00" font-size="10" text-anchor="start" font-weight="normal" >HuLuc63</text>
<text x="67.50" y="221.20" font-size="9.6" textLength="28.75" lengthAdjust="spacingAndGlyphs">MM1S</text>
<line x1="67.50" y1="223.20" x2="96.25" y2="223.20" stroke="#000" stroke-width="0.9"/>
<text x="159.50" y="221.00" font-size="9.6" textLength="29.00" lengthAdjust="spacingAndGlyphs">MM1R</text>
<line x1="159.50" y1="223.10" x2="188.50" y2="223.10" stroke="#000" stroke-width="0.9"/>
<text x="257.50" y="221.00" font-size="9.6" textLength="72.50" lengthAdjust="spacingAndGlyphs">MM patient cells</text>
<line x1="257.50" y1="223.10" x2="330.00" y2="223.10" stroke="#000" stroke-width="0.9"/>
<line x1="43.30" y1="224.60" x2="43.30" y2="267.50" stroke="#000" stroke-width="1.0"/>
<line x1="43.30" y1="267.00" x2="121.00" y2="267.00" stroke="#000" stroke-width="1.0"/>
<line x1="42.00" y1="225.00" x2="43.30" y2="225.00" stroke="#000" stroke-width="0.7"/>
<text transform="translate(37.60,229.37) scale(1.08,1)" font-size="9.5" text-anchor="end" font-weight="normal" >80</text>
<line x1="42.00" y1="235.00" x2="43.30" y2="235.00" stroke="#000" stroke-width="0.7"/>
<text transform="translate(37.60,239.37) scale(1.08,1)" font-size="9.5" text-anchor="end" font-weight="normal" >60</text>
<line x1="42.00" y1="245.10" x2="43.30" y2="245.10" stroke="#000" stroke-width="0.7"/>
<text transform="translate(37.60,249.47) scale(1.08,1)" font-size="9.5" text-anchor="end" font-weight="normal" >40</text>
<line x1="42.00" y1="255.50" x2="43.30" y2="255.50" stroke="#000" stroke-width="0.7"/>
<text transform="translate(37.60,259.87) scale(1.08,1)" font-size="9.5" text-anchor="end" font-weight="normal" >20</text>
<line x1="42.00" y1="266.00" x2="43.30" y2="266.00" stroke="#000" stroke-width="0.7"/>
<text transform="translate(37.60,270.37) scale(1.08,1)" font-size="9.5" text-anchor="end" font-weight="normal" >0</text>
<line x1="113.20" y1="240.40" x2="113.20" y2="238.50" stroke="#000" stroke-width="0.8"/>
<line x1="112.00" y1="238.50" x2="114.40" y2="238.50" stroke="#000" stroke-width="0.8"/>
<line x1="82.20" y1="246.60" x2="82.20" y2="244.50" stroke="#000" stroke-width="0.8"/>
<line x1="81.00" y1="244.50" x2="83.40" y2="244.50" stroke="#000" stroke-width="0.8"/>
<polyline points="51.10,266.60 66.50,266.60 82.20,266.60 97.50,266.60 113.20,266.60" fill="none" stroke="#000" stroke-width="1.1"/>
<polyline points="51.10,259.60 66.50,259.20 82.20,259.70 97.50,260.90 113.20,260.00" fill="none" stroke="#000" stroke-width="1.1"/>
<polyline points="51.10,266.60 66.50,258.70 82.20,254.00 97.50,248.30 113.20,240.40" fill="none" stroke="#000" stroke-width="1.1"/>
<polyline points="51.10,259.60 66.50,253.20 82.20,246.60 97.50,240.90 113.20,229.30" fill="none" stroke="#000" stroke-width="1.1"/>
<circle cx="51.10" cy="266.60" r="1.50" fill="#fff" stroke="#000" stroke-width="0.8"/>
<circle cx="66.50" cy="266.60" r="1.50" fill="#fff" stroke="#000" stroke-width="0.8"/>
<circle cx="82.20" cy="266.60" r="1.50" fill="#fff" stroke="#000" stroke-width="0.8"/>
<circle cx="97.50" cy="266.60" r="1.50" fill="#fff" stroke="#000" stroke-width="0.8"/>
<circle cx="113.20" cy="266.60" r="1.50" fill="#fff" stroke="#000" stroke-width="0.8"/>
<rect x="49.55" y="258.05" width="3.10" height="3.10" rx="0.6" fill="#fff" stroke="#000" stroke-width="0.9"/>
<rect x="64.95" y="257.65" width="3.10" height="3.10" rx="0.6" fill="#fff" stroke="#000" stroke-width="0.9"/>
<rect x="80.65" y="258.15" width="3.10" height="3.10" rx="0.6" fill="#fff" stroke="#000" stroke-width="0.9"/>
<rect x="95.95" y="259.35" width="3.10" height="3.10" rx="0.6" fill="#fff" stroke="#000" stroke-width="0.9"/>
<rect x="111.65" y="258.45" width="3.10" height="3.10" rx="0.6" fill="#fff" stroke="#000" stroke-width="0.9"/>
<circle cx="51.10" cy="266.60" r="1.80" fill="#000"/>
<circle cx="66.50" cy="258.70" r="1.80" fill="#000"/>
<circle cx="82.20" cy="254.00" r="1.80" fill="#000"/>
<circle cx="97.50" cy="248.30" r="1.80" fill="#000"/>
<circle cx="113.20" cy="240.40" r="1.80" fill="#000"/>
<rect x="49.30" y="257.80" width="3.60" height="3.60" fill="#000"/>
<rect x="64.70" y="251.40" width="3.60" height="3.60" fill="#000"/>
<rect x="80.40" y="244.80" width="3.60" height="3.60" fill="#000"/>
<rect x="95.70" y="239.10" width="3.60" height="3.60" fill="#000"/>
<rect x="111.40" y="227.50" width="3.60" height="3.60" fill="#000"/>
<line x1="148.00" y1="223.75" x2="148.00" y2="269.70" stroke="#000" stroke-width="1.0"/>
<line x1="146.20" y1="265.00" x2="221.30" y2="265.00" stroke="#000" stroke-width="1.0"/>
<line x1="146.70" y1="227.60" x2="148.00" y2="227.60" stroke="#000" stroke-width="0.7"/>
<text transform="translate(142.30,231.97) scale(1.08,1)" font-size="9.5" text-anchor="end" font-weight="normal" >80</text>
<line x1="146.70" y1="236.50" x2="148.00" y2="236.50" stroke="#000" stroke-width="0.7"/>
<text transform="translate(142.30,240.87) scale(1.08,1)" font-size="9.5" text-anchor="end" font-weight="normal" >60</text>
<line x1="146.70" y1="246.00" x2="148.00" y2="246.00" stroke="#000" stroke-width="0.7"/>
<text transform="translate(142.30,250.37) scale(1.08,1)" font-size="9.5" text-anchor="end" font-weight="normal" >40</text>
<line x1="146.70" y1="256.00" x2="148.00" y2="256.00" stroke="#000" stroke-width="0.7"/>
<text transform="translate(142.30,260.37) scale(1.08,1)" font-size="9.5" text-anchor="end" font-weight="normal" >20</text>
<line x1="146.70" y1="265.70" x2="148.00" y2="265.70" stroke="#000" stroke-width="0.7"/>
<text transform="translate(142.30,270.07) scale(1.08,1)" font-size="9.5" text-anchor="end" font-weight="normal" >0</text>
<line x1="199.00" y1="234.30" x2="199.00" y2="231.50" stroke="#000" stroke-width="0.8"/>
<line x1="197.80" y1="231.50" x2="200.20" y2="231.50" stroke="#000" stroke-width="0.8"/>
<line x1="184.40" y1="248.70" x2="184.40" y2="246.50" stroke="#000" stroke-width="0.8"/>
<line x1="183.20" y1="246.50" x2="185.60" y2="246.50" stroke="#000" stroke-width="0.8"/>
<polyline points="155.70,264.70 169.80,264.70 184.40,264.70 199.00,264.70 213.80,264.70" fill="none" stroke="#000" stroke-width="1.1"/>
<polyline points="155.70,261.30 169.80,261.30 184.40,261.30 199.00,261.30 213.80,261.30" fill="none" stroke="#000" stroke-width="1.1"/>
<polyline points="155.70,265.40 169.80,259.70 184.40,255.10 199.00,242.80 213.80,240.70" fill="none" stroke="#000" stroke-width="1.1"/>
<polyline points="155.70,261.20 169.80,255.10 184.40,248.70 199.00,234.30 213.80,228.60" fill="none" stroke="#000" stroke-width="1.1"/>
<path d="M155.70,263.30 L157.10,264.70 L155.70,266.10 L154.30,264.70 Z" fill="#fff" stroke="#000" stroke-width="0.7"/>
<path d="M169.80,263.30 L171.20,264.70 L169.80,266.10 L168.40,264.70 Z" fill="#fff" stroke="#000" stroke-width="0.7"/>
<path d="M184.40,263.30 L185.80,264.70 L184.40,266.10 L183.00,264.70 Z" fill="#fff" stroke="#000" stroke-width="0.7"/>
<path d="M199.00,263.30 L200.40,264.70 L199.00,266.10 L197.60,264.70 Z" fill="#fff" stroke="#000" stroke-width="0.7"/>
<path d="M213.80,263.30 L215.20,264.70 L213.80,266.10 L212.40,264.70 Z" fill="#fff" stroke="#000" stroke-width="0.7"/>
<path d="M155.70,259.90 L157.10,261.30 L155.70,262.70 L154.30,261.30 Z" fill="#fff" stroke="#000" stroke-width="0.7"/>
<path d="M169.80,259.90 L171.20,261.30 L169.80,262.70 L168.40,261.30 Z" fill="#fff" stroke="#000" stroke-width="0.7"/>
<path d="M184.40,259.90 L185.80,261.30 L184.40,262.70 L183.00,261.30 Z" fill="#fff" stroke="#000" stroke-width="0.7"/>
<path d="M199.00,259.90 L200.40,261.30 L199.00,262.70 L197.60,261.30 Z" fill="#fff" stroke="#000" stroke-width="0.7"/>
<path d="M213.80,259.90 L215.20,261.30 L213.80,262.70 L212.40,261.30 Z" fill="#fff" stroke="#000" stroke-width="0.7"/>
<circle cx="155.70" cy="265.40" r="1.80" fill="#000"/>
<circle cx="169.80" cy="259.70" r="1.80" fill="#000"/>
<circle cx="184.40" cy="255.10" r="1.80" fill="#000"/>
<circle cx="199.00" cy="242.80" r="1.80" fill="#000"/>
<circle cx="213.80" cy="240.70" r="1.80" fill="#000"/>
<rect x="153.90" y="259.40" width="3.60" height="3.60" fill="#000"/>
<rect x="168.00" y="253.30" width="3.60" height="3.60" fill="#000"/>
<rect x="182.60" y="246.90" width="3.60" height="3.60" fill="#000"/>
<rect x="197.20" y="232.50" width="3.60" height="3.60" fill="#000"/>
<rect x="212.00" y="226.80" width="3.60" height="3.60" fill="#000"/>
<line x1="256.20" y1="225.90" x2="256.20" y2="273.50" stroke="#000" stroke-width="1.0"/>
<line x1="254.50" y1="266.00" x2="331.90" y2="266.00" stroke="#000" stroke-width="1.0"/>
<line x1="254.90" y1="225.50" x2="256.20" y2="225.50" stroke="#000" stroke-width="0.7"/>
<text transform="translate(255.00,229.87) scale(1.08,1)" font-size="9.5" text-anchor="end" font-weight="normal" >50</text>
<line x1="254.90" y1="233.40" x2="256.20" y2="233.40" stroke="#000" stroke-width="0.7"/>
<text transform="translate(255.00,237.77) scale(1.08,1)" font-size="9.5" text-anchor="end" font-weight="normal" >40</text>
<line x1="254.90" y1="241.60" x2="256.20" y2="241.60" stroke="#000" stroke-width="0.7"/>
<text transform="translate(255.00,245.97) scale(1.08,1)" font-size="9.5" text-anchor="end" font-weight="normal" >30</text>
<line x1="254.90" y1="249.50" x2="256.20" y2="249.50" stroke="#000" stroke-width="0.7"/>
<text transform="translate(255.00,253.87) scale(1.08,1)" font-size="9.5" text-anchor="end" font-weight="normal" >20</text>
<line x1="254.90" y1="257.80" x2="256.20" y2="257.80" stroke="#000" stroke-width="0.7"/>
<text transform="translate(255.00,262.17) scale(1.08,1)" font-size="9.5" text-anchor="end" font-weight="normal" >10</text>
<line x1="254.90" y1="265.70" x2="256.20" y2="265.70" stroke="#000" stroke-width="0.7"/>
<text transform="translate(255.00,270.07) scale(1.08,1)" font-size="9.5" text-anchor="end" font-weight="normal" >0</text>
<line x1="319.20" y1="234.30" x2="319.20" y2="231.20" stroke="#000" stroke-width="0.8"/>
<line x1="318.00" y1="231.20" x2="320.40" y2="231.20" stroke="#000" stroke-width="0.8"/>
<line x1="294.40" y1="242.80" x2="294.40" y2="240.70" stroke="#000" stroke-width="0.8"/>
<line x1="293.20" y1="240.70" x2="295.60" y2="240.70" stroke="#000" stroke-width="0.8"/>
<polyline points="269.30,266.00 294.40,266.00 319.20,265.40" fill="none" stroke="#000" stroke-width="1.1"/>
<polyline points="269.30,262.90 294.40,262.90 319.20,264.00" fill="none" stroke="#000" stroke-width="1.1"/>
<polyline points="269.30,266.00 294.40,260.30 319.20,254.80" fill="none" stroke="#000" stroke-width="1.1"/>
<polyline points="269.30,261.40 294.40,242.80 319.20,234.30" fill="none" stroke="#000" stroke-width="1.1"/>
<circle cx="269.30" cy="266.00" r="1.50" fill="#fff" stroke="#000" stroke-width="0.8"/>
<circle cx="294.40" cy="266.00" r="1.50" fill="#fff" stroke="#000" stroke-width="0.8"/>
<circle cx="319.20" cy="265.40" r="1.50" fill="#fff" stroke="#000" stroke-width="0.8"/>
<rect x="267.75" y="261.35" width="3.10" height="3.10" rx="0.6" fill="#fff" stroke="#000" stroke-width="0.9"/>
<rect x="292.85" y="261.35" width="3.10" height="3.10" rx="0.6" fill="#fff" stroke="#000" stroke-width="0.9"/>
<rect x="317.65" y="262.45" width="3.10" height="3.10" rx="0.6" fill="#fff" stroke="#000" stroke-width="0.9"/>
<circle cx="269.30" cy="266.00" r="1.80" fill="#000"/>
<circle cx="294.40" cy="260.30" r="1.80" fill="#000"/>
<circle cx="319.20" cy="254.80" r="1.80" fill="#000"/>
<rect x="267.50" y="259.60" width="3.60" height="3.60" fill="#000"/>
<rect x="292.60" y="241.00" width="3.60" height="3.60" fill="#000"/>
<rect x="317.40" y="232.50" width="3.60" height="3.60" fill="#000"/>
<text transform="translate(55.20,284.10) rotate(-45) scale(1.18,1)" font-size="8.8" text-anchor="middle" font-weight="normal" >0</text>
<text transform="translate(70.60,284.10) rotate(-45) scale(1.18,1)" font-size="8.8" text-anchor="middle" font-weight="normal" >0.001</text>
<text transform="translate(86.30,284.10) rotate(-45) scale(1.18,1)" font-size="8.8" text-anchor="middle" font-weight="normal" >0.01</text>
<text transform="translate(101.60,284.10) rotate(-45) scale(1.18,1)" font-size="8.8" text-anchor="middle" font-weight="normal" >0.1</text>
<text transform="translate(117.30,284.10) rotate(-45) scale(1.18,1)" font-size="8.8" text-anchor="middle" font-weight="normal" >1</text>
<text transform="translate(159.80,284.10) rotate(-45) scale(1.18,1)" font-size="8.8" text-anchor="middle" font-weight="normal" >0</text>
<text transform="translate(173.90,284.10) rotate(-45) scale(1.18,1)" font-size="8.8" text-anchor="middle" font-weight="normal" >0.001</text>
<text transform="translate(188.50,284.10) rotate(-45) scale(1.18,1)" font-size="8.8" text-anchor="middle" font-weight="normal" >0.01</text>
<text transform="translate(203.10,284.10) rotate(-45) scale(1.18,1)" font-size="8.8" text-anchor="middle" font-weight="normal" >0.1</text>
<text transform="translate(217.90,284.10) rotate(-45) scale(1.18,1)" font-size="8.8" text-anchor="middle" font-weight="normal" >1</text>
<text x="269.30" y="286.48" font-size="9.8" text-anchor="middle" font-weight="normal" >0</text>
<text x="294.70" y="286.48" font-size="9.8" text-anchor="middle" font-weight="normal" >1</text>
<text x="319.60" y="286.48" font-size="9.8" text-anchor="middle" font-weight="normal" >10</text>
<text transform="translate(10.20,248.40) rotate(-90)" font-size="8.7" text-anchor="middle" font-weight="normal"  textLength="71.20" lengthAdjust="spacingAndGlyphs">% specific lysis</text>
<text x="160.50" y="305.40" font-size="10.1" text-anchor="start" font-weight="normal" >mAb, µg/mL</text>
<rect x="352.95" y="223.95" width="3.10" height="3.10" rx="0.6" fill="#fff" stroke="#000" stroke-width="0.9"/>
<text x="363.50" y="229.10" font-size="10.2" text-anchor="start" font-weight="normal" >iso IgG<tspan font-size="6" dy="2">1</tspan><tspan dy="-2">, Lenalidomide</tspan></text>
<rect x="352.70" y="234.40" width="3.60" height="3.60" fill="#000"/>
<text x="363.50" y="239.80" font-size="10.2" text-anchor="start" font-weight="normal"  textLength="106.00" lengthAdjust="spacingAndGlyphs">HuLuc63, Lenalidomide</text>
<circle cx="354.50" cy="247.30" r="1.50" fill="#fff" stroke="#000" stroke-width="0.8"/>
<text x="363.50" y="250.90" font-size="10.2" text-anchor="start" font-weight="normal" >iso IgG<tspan font-size="6" dy="2">1</tspan></text>
<circle cx="354.50" cy="258.40" r="1.80" fill="#000"/>
<text x="363.50" y="262.00" font-size="10.2" text-anchor="start" font-weight="normal"  textLength="41.20" lengthAdjust="spacingAndGlyphs">HuLuc63</text>
<rect x="55.2" y="344.4" width="192.6" height="38.4" fill="none" stroke="#000" stroke-width="1"/>
<line x1="82.50" y1="344.40" x2="82.50" y2="382.80" stroke="#000" stroke-width="0.9"/>
<line x1="53.60" y1="343.95" x2="55.20" y2="343.95" stroke="#000" stroke-width="0.7"/>
<text transform="translate(50.30,348.02) scale(1.08,1)" font-size="9.2" text-anchor="end" font-weight="normal" >100</text>
<line x1="53.60" y1="351.50" x2="55.20" y2="351.50" stroke="#000" stroke-width="0.7"/>
<text transform="translate(50.30,355.57) scale(1.08,1)" font-size="9.2" text-anchor="end" font-weight="normal" >80</text>
<line x1="53.60" y1="359.20" x2="55.20" y2="359.20" stroke="#000" stroke-width="0.7"/>
<text transform="translate(50.30,363.27) scale(1.08,1)" font-size="9.2" text-anchor="end" font-weight="normal" >60</text>
<line x1="53.60" y1="367.20" x2="55.20" y2="367.20" stroke="#000" stroke-width="0.7"/>
<text transform="translate(50.30,371.27) scale(1.08,1)" font-size="9.2" text-anchor="end" font-weight="normal" >40</text>
<line x1="53.60" y1="375.20" x2="55.20" y2="375.20" stroke="#000" stroke-width="0.7"/>
<text transform="translate(50.30,379.27) scale(1.08,1)" font-size="9.2" text-anchor="end" font-weight="normal" >20</text>
<line x1="53.60" y1="383.00" x2="55.20" y2="383.00" stroke="#000" stroke-width="0.7"/>
<text transform="translate(50.30,387.07) scale(1.08,1)" font-size="9.2" text-anchor="end" font-weight="normal" >0</text>
<line x1="65.45" y1="370.50" x2="65.45" y2="368.80" stroke="#000" stroke-width="0.8"/>
<line x1="63.95" y1="368.80" x2="66.95" y2="368.80" stroke="#000" stroke-width="0.8"/>
<rect x="61.25" y="370.50" width="8.40" height="12.30" fill="#000"/>
<rect x="69.65" y="380.50" width="8.00" height="2.30" fill="#bbb" stroke="#000" stroke-width="0.7"/>
<line x1="92.45" y1="365.90" x2="92.45" y2="363.60" stroke="#000" stroke-width="0.8"/>
<line x1="90.95" y1="363.60" x2="93.95" y2="363.60" stroke="#000" stroke-width="0.8"/>
<rect x="88.25" y="365.90" width="8.40" height="16.90" fill="#000"/>
<rect x="96.65" y="382.00" width="8.00" height="0.80" fill="#fff" stroke="#000" stroke-width="0.7"/>
<circle cx="92.45" cy="356.90" r="1.25" fill="#000"/>
<line x1="120.45" y1="363.75" x2="120.45" y2="362.80" stroke="#000" stroke-width="0.8"/>
<line x1="118.95" y1="362.80" x2="121.95" y2="362.80" stroke="#000" stroke-width="0.8"/>
<rect x="116.25" y="363.75" width="8.40" height="19.05" fill="#000"/>
<rect x="124.65" y="378.50" width="8.00" height="4.30" fill="#fff" stroke="#000" stroke-width="0.7"/>
<circle cx="120.45" cy="355.50" r="1.25" fill="#000"/>
<line x1="147.95" y1="355.30" x2="147.95" y2="352.30" stroke="#000" stroke-width="0.8"/>
<line x1="146.45" y1="352.30" x2="149.45" y2="352.30" stroke="#000" stroke-width="0.8"/>
<rect x="143.75" y="355.30" width="8.40" height="27.50" fill="#000"/>
<rect x="152.15" y="382.00" width="8.00" height="0.80" fill="#fff" stroke="#000" stroke-width="0.7"/>
<circle cx="145.90" cy="347.00" r="1.25" fill="#000"/>
<circle cx="150.00" cy="347.00" r="1.25" fill="#000"/>
<line x1="174.95" y1="365.00" x2="174.95" y2="360.00" stroke="#000" stroke-width="0.8"/>
<line x1="173.45" y1="360.00" x2="176.45" y2="360.00" stroke="#000" stroke-width="0.8"/>
<rect x="170.75" y="365.00" width="8.40" height="17.80" fill="#000"/>
<rect x="179.15" y="379.25" width="8.00" height="3.55" fill="#fff" stroke="#000" stroke-width="0.7"/>
<circle cx="174.95" cy="355.30" r="1.25" fill="#000"/>
<line x1="202.20" y1="363.20" x2="202.20" y2="362.40" stroke="#000" stroke-width="0.8"/>
<line x1="200.70" y1="362.40" x2="203.70" y2="362.40" stroke="#000" stroke-width="0.8"/>
<rect x="198.00" y="363.20" width="8.40" height="19.60" fill="#000"/>
<rect x="206.40" y="381.00" width="8.00" height="1.80" fill="#bbb" stroke="#000" stroke-width="0.7"/>
<circle cx="202.20" cy="355.80" r="1.25" fill="#000"/>
<line x1="229.90" y1="350.30" x2="229.90" y2="347.40" stroke="#000" stroke-width="0.8"/>
<line x1="228.40" y1="347.40" x2="231.40" y2="347.40" stroke="#000" stroke-width="0.8"/>
<rect x="225.70" y="350.30" width="8.40" height="32.50" fill="#000"/>
<rect x="234.10" y="375.40" width="8.00" height="7.40" fill="#fff" stroke="#000" stroke-width="0.7"/>
<circle cx="227.85" cy="341.50" r="1.25" fill="#000"/>
<circle cx="231.95" cy="341.50" r="1.25" fill="#000"/>
<text transform="translate(74.20,387.60) rotate(-90)" font-size="10.3" text-anchor="end" font-weight="normal" >con</text>
<text transform="translate(101.80,387.60) rotate(-90)" font-size="10.3" text-anchor="end" font-weight="normal" >U0126</text>
<text transform="translate(129.20,387.60) rotate(-90)" font-size="10.3" text-anchor="end" font-weight="normal" >Dex</text>
<text transform="translate(156.00,387.60) rotate(-90)" font-size="10.3" text-anchor="end" font-weight="normal" >perifosine</text>
<text transform="translate(183.70,387.60) rotate(-90)" font-size="10.3" text-anchor="end" font-weight="normal" >bortezomib</text>
<text x="190.75" y="395.30" font-size="10.2" text-anchor="start" font-weight="normal"  textLength="58.60" lengthAdjust="spacingAndGlyphs">Lenalidomide</text>
<text x="221.40" y="406.80" font-size="10.2" text-anchor="middle" font-weight="normal" >µM</text>
<polygon points="198.3,415.2 241.5,411.7 241.5,415.6 198.3,415.6" fill="#000"/>
<text x="197.50" y="426.60" font-size="10.2" text-anchor="start" font-weight="normal" >0.05</text>
<text x="226.25" y="426.60" font-size="10.2" text-anchor="start" font-weight="normal" >0.5</text>
<text transform="translate(22.40,368.40) rotate(-90)" font-size="9.2" text-anchor="middle" font-weight="normal"  textLength="69.20" lengthAdjust="spacingAndGlyphs">% specific lysis</text>
<rect x="318.5" y="328.5" width="140.8" height="63.8" fill="none" stroke="#000" stroke-width="1"/>
<line x1="389.60" y1="328.50" x2="389.60" y2="392.30" stroke="#000" stroke-width="0.9"/>
<line x1="317.00" y1="327.80" x2="318.50" y2="327.80" stroke="#000" stroke-width="0.7"/>
<text transform="translate(314.20,332.26) scale(1.06,1)" font-size="10.3" text-anchor="end" font-weight="normal" >56</text>
<line x1="317.00" y1="337.00" x2="318.50" y2="337.00" stroke="#000" stroke-width="0.7"/>
<text transform="translate(314.20,341.46) scale(1.06,1)" font-size="10.3" text-anchor="end" font-weight="normal" >48</text>
<line x1="317.00" y1="346.30" x2="318.50" y2="346.30" stroke="#000" stroke-width="0.7"/>
<text transform="translate(314.20,350.76) scale(1.06,1)" font-size="10.3" text-anchor="end" font-weight="normal" >40</text>
<line x1="317.00" y1="355.60" x2="318.50" y2="355.60" stroke="#000" stroke-width="0.7"/>
<text transform="translate(314.20,360.06) scale(1.06,1)" font-size="10.3" text-anchor="end" font-weight="normal" >32</text>
<line x1="317.00" y1="364.60" x2="318.50" y2="364.60" stroke="#000" stroke-width="0.7"/>
<text transform="translate(314.20,369.06) scale(1.06,1)" font-size="10.3" text-anchor="end" font-weight="normal" >24</text>
<line x1="317.00" y1="373.70" x2="318.50" y2="373.70" stroke="#000" stroke-width="0.7"/>
<text transform="translate(314.20,378.16) scale(1.06,1)" font-size="10.3" text-anchor="end" font-weight="normal" >16</text>
<line x1="317.00" y1="382.60" x2="318.50" y2="382.60" stroke="#000" stroke-width="0.7"/>
<text transform="translate(314.20,387.06) scale(1.06,1)" font-size="10.3" text-anchor="end" font-weight="normal" >8</text>
<line x1="317.00" y1="391.60" x2="318.50" y2="391.60" stroke="#000" stroke-width="0.7"/>
<text transform="translate(314.20,396.06) scale(1.06,1)" font-size="10.3" text-anchor="end" font-weight="normal" >0</text>
<rect x="326.50" y="387.30" width="10.10" height="5.00" fill="#fff" stroke="#000" stroke-width="0.7"/>
<line x1="342.10" y1="339.50" x2="342.10" y2="338.00" stroke="#000" stroke-width="0.8"/>
<line x1="340.60" y1="338.00" x2="343.60" y2="338.00" stroke="#000" stroke-width="0.8"/>
<rect x="336.60" y="339.50" width="10.80" height="52.80" fill="#000"/>
<rect x="361.10" y="387.30" width="10.10" height="5.00" fill="#fff" stroke="#000" stroke-width="0.7"/>
<line x1="376.70" y1="343.20" x2="376.70" y2="341.30" stroke="#000" stroke-width="0.8"/>
<line x1="375.20" y1="341.30" x2="378.20" y2="341.30" stroke="#000" stroke-width="0.8"/>
<rect x="371.20" y="343.20" width="10.80" height="49.10" fill="#000"/>
<rect x="395.90" y="387.30" width="10.10" height="5.00" fill="#fff" stroke="#000" stroke-width="0.7"/>
<rect x="406.00" y="359.20" width="10.80" height="33.10" fill="#000"/>
<circle cx="412.30" cy="351.0" r="1.25" fill="#000"/>
<rect x="431.20" y="387.30" width="10.10" height="5.00" fill="#fff" stroke="#000" stroke-width="0.7"/>
<line x1="446.80" y1="365.20" x2="446.80" y2="360.80" stroke="#000" stroke-width="0.8"/>
<line x1="445.30" y1="360.80" x2="448.30" y2="360.80" stroke="#000" stroke-width="0.8"/>
<rect x="441.30" y="365.20" width="10.80" height="27.10" fill="#000"/>
<circle cx="447.60" cy="351.0" r="1.25" fill="#000"/>
<text x="323.5" y="404.8" font-size="10.2" textLength="28.6" lengthAdjust="spacingAndGlyphs">MM1S</text>
<text x="358" y="404.8" font-size="10.2" textLength="29.3" lengthAdjust="spacingAndGlyphs">MM1R</text>
<text x="396.7" y="404.8" font-size="10.2" textLength="28.6" lengthAdjust="spacingAndGlyphs">MM1S</text>
<text x="428.75" y="404.8" font-size="10.2" textLength="29.3" lengthAdjust="spacingAndGlyphs">MM1R</text>
<line x1="396.70" y1="408.90" x2="455.00" y2="408.90" stroke="#000" stroke-width="0.9"/>
<text x="405.80" y="418.00" font-size="10.2" text-anchor="start" font-weight="normal"  textLength="42.80" lengthAdjust="spacingAndGlyphs">+ BMSCs</text>
<path d="M337.7,327.3 Q337.7,324.4 341,324.4 L370.8,324.4 Q374.2,324.4 374.2,321.8 Q374.2,324.4 377.5,324.4 L406.3,324.4 Q409.6,324.4 409.6,327.3" fill="none" stroke="#000" stroke-width="0.9"/>
<path d="M372.2,336.8 Q372.2,333.9 375.5,333.9 L404.5,333.9 Q407.8,333.9 407.8,331.6 Q407.8,333.9 411,333.9 L439.8,333.9 Q443,333.9 443,336.8" fill="none" stroke="#000" stroke-width="0.9"/>
<rect x="463.50" y="341.30" width="3.80" height="3.80" fill="#fff" stroke="#000" stroke-width="0.8"/>
<rect x="463.30" y="355.40" width="4.20" height="4.20" fill="#000"/>
<text x="472.70" y="345.90" font-size="10.2" text-anchor="start" font-weight="normal" >iso IgG<tspan font-size="6" dy="2">1</tspan></text>
<text x="472.70" y="360.80" font-size="10.2" text-anchor="start" font-weight="normal"  textLength="41.40" lengthAdjust="spacingAndGlyphs">HuLuc63</text>
<text transform="translate(288.30,360.80) rotate(-90)" font-size="9.3" text-anchor="middle" font-weight="normal"  textLength="68.20" lengthAdjust="spacingAndGlyphs">% specific lysis</text>
</g></svg>
</body></html>
